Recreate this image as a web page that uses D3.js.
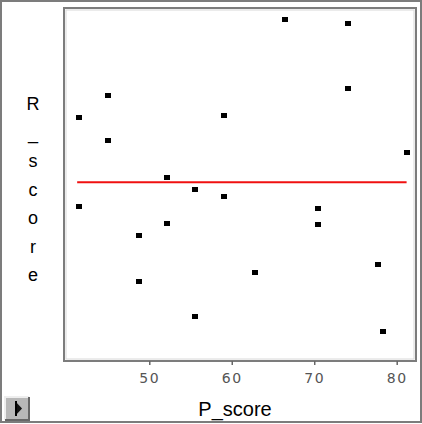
<!DOCTYPE html>
<html>
<head>
<meta charset="utf-8">
<script src="https://cdn.jsdelivr.net/npm/d3@7"></script>
<style>
  body { margin: 0; background: #fff; }
  svg { display: block; }
</style>
</head>
<body>
<svg id="vis" width="422" height="424"></svg>
<script>
// data
var pScore = [41.5, 45.0, 45.0, 41.5, 48.7, 48.7, 52.1, 52.1, 55.5, 55.5, 59.0,
              59.0, 62.8, 66.5, 70.5, 70.5, 74.1, 74.1, 77.7, 78.3, 81.2];
var rScore = [71.4, 75.2, 67.5, 56.2, 51.4, 43.5, 61.2, 53.3, 59.2, 37.5, 71.7,
              57.9, 45.0, 88.1, 56.0, 53.2, 87.3, 76.3, 46.4, 35.0, 65.4];
var xTicks = [50, 60, 70, 80];
var lineValue = 60.4;                                   // red horizontal line
var xLabel = 'P_score', yLabel = 'R_score';

var svg = d3.select('#vis');
var W = 422, H = 424;
var plot = {left: 64, top: 8, right: 416, bottom: 361};

// outer window frame
svg.append('rect').attr('x', 1).attr('y', 1).attr('width', W - 2).attr('height', H - 3)
  .attr('fill', '#fff').attr('stroke', '#7c7c7c').attr('stroke-width', 2);

// scales
var x = d3.scaleLinear().domain([39.66, 82.34]).range([plot.left, plot.right]);
var y = d3.scaleLinear().domain([30, 90]).range([plot.bottom, plot.top]);

// plot frame
svg.append('rect').attr('x', plot.left).attr('y', plot.top)
  .attr('width', plot.right - plot.left).attr('height', plot.bottom - plot.top)
  .attr('fill', '#fff').attr('stroke', '#7c7c7c').attr('stroke-width', 2);
svg.append('rect').attr('x', plot.left + 2).attr('y', plot.top + 2)
  .attr('width', plot.right - plot.left - 4).attr('height', plot.bottom - plot.top - 4)
  .attr('fill', 'none').attr('stroke', '#d8d8d8').attr('stroke-width', 1);

// x axis
var axis = svg.append('g').attr('transform', 'translate(0,' + plot.bottom + ')')
  .call(d3.axisBottom(x).tickValues(xTicks).tickSize(4).tickPadding(8));
axis.select('.domain').remove();
axis.selectAll('.tick line').attr('stroke', '#666').attr('stroke-width', 1.5);
axis.selectAll('.tick text')
  .attr('fill', '#555').style('font-family', 'DejaVu Sans, sans-serif')
  .style('font-size', '14px').style('letter-spacing', '1.5px');

// axis titles
svg.append('text').attr('x', 235).attr('y', 416).attr('text-anchor', 'middle')
  .style('font-family', 'Liberation Sans, Arial, sans-serif').style('font-size', '20px')
  .text(xLabel);

var yChars = yLabel.split('');
svg.append('g').selectAll('text').data(yChars).enter().append('text')
  .attr('x', 33)
  .attr('y', function(d, i) { return 110 + i * 28.5 })
  .attr('text-anchor', 'middle')
  .style('font-family', 'Liberation Sans, Arial, sans-serif').style('font-size', '18px')
  .text(function(d) { return d });

// red line
var ext = d3.extent(pScore);
svg.append('line')
  .attr('x1', x(ext[0]) - 2).attr('x2', x(ext[1]))
  .attr('y1', y(lineValue)).attr('y2', y(lineValue))
  .attr('stroke', '#f01010').attr('stroke-width', 2);

// points
svg.append('g').selectAll('rect').data(pScore).enter().append('rect')
  .attr('x', function(d) { return Math.round(x(d) - 3) })
  .attr('y', function(d, i) { return Math.round(y(rScore[i]) - 2.5) })
  .attr('width', 6).attr('height', 5).attr('fill', '#000');

// play button in the corner
var btn = svg.append('g').attr('transform', 'translate(5,397)');
btn.append('rect').attr('width', 24).attr('height', 23).attr('fill', '#b8b8b8');
btn.append('path').attr('d', 'M0,23V0H24').attr('fill', 'none').attr('stroke', '#eee').attr('stroke-width', 2);
btn.append('path').attr('d', 'M24,0V23H0').attr('fill', 'none').attr('stroke', '#666').attr('stroke-width', 2);
btn.append('path').attr('d', 'M10,4L10,19L17,11.5Z').attr('fill', '#111');
btn.append('rect').attr('x', 10).attr('y', 4).attr('width', 2).attr('height', 15).attr('fill', '#000');
</script>
</body>
</html>
